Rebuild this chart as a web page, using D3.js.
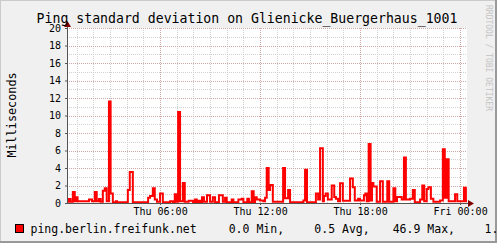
<!DOCTYPE html>
<html>
<head>
<meta charset="utf-8">
<script src="https://cdn.jsdelivr.net/npm/d3@7"></script>
<style>
  body { margin: 0; background: #f0f0f0; }
  text { font-family: "DejaVu Sans Mono", monospace; }
</style>
</head>
<body>
<div class="chart_wrapper"></div>
<script>
// step series: value holds from each time until the next one
const stepTimes = [
  "00:25","00:32","00:38","00:46","00:53","00:57","01:03","01:44","01:55","02:05",
  "02:12","02:20","02:26","02:34","02:41","02:48","02:56","03:02","03:10","03:21",
  "03:25","04:04","04:11","04:22","05:17","05:24","05:34","05:41","05:49","06:00",
  "06:10","06:36","06:46","06:53","07:00","07:05","07:12","07:22","07:29","07:43",
  "07:59","08:06","08:12","08:18","08:24","08:31","08:38","08:49","09:00","09:10",
  "09:18","09:32","09:46","09:54","10:00","10:18","10:24","10:42","10:54","11:00",
  "11:14","11:20","11:30","11:37","11:42","11:48","12:00","12:12","12:18","12:24",
  "12:31","12:36","12:46","13:23","13:30","13:41","13:48","14:36","14:42","14:49",
  "15:21","15:29","15:36","15:46","15:50","15:56","16:04","16:18","16:27","16:33",
  "16:41","16:48","16:58","17:24","17:34","17:41","17:53","18:00","18:14","18:19",
  "18:24","18:31","18:38","18:43","18:48","19:00","19:12","19:22","19:38","19:45",
  "20:00","20:07","20:13","20:30","20:38","20:45","21:00","21:10","21:17","21:36",
  "21:44","21:51","22:00","22:06","22:15","22:24","22:48","22:58","23:05","23:12",
  "23:19","23:42","23:50","24:14","24:21"
]
const stepValues = [
  0.15,0.45,0.15,1.25,0.2,0.65,0.2,0.4,0.2,1.25,
  0.2,0.45,0.15,1.4,1.7,0.2,11.6,1.1,0.1,0.2,
  0.1,1.5,3.55,0.1,0.6,0.8,1.7,0.4,0.15,1.1,
  0.1,0.2,0.1,1.0,0.15,10.4,0.2,2.3,0.15,0.25,
  0.1,0.4,0.1,0.25,0.1,0.65,0.15,0.9,0.15,0.65,
  0.1,0.9,0.15,0.6,0.1,0.4,0.1,0.4,0.5,0.1,
  0.5,0.1,1.35,0.1,0.65,0.4,0.3,0.2,0.6,4.0,
  1.5,2.05,0.15,4.0,0.55,1.5,0.1,0.3,3.8,0.1,
  1.1,0.4,6.25,0.2,0.8,1.1,0.4,2.0,0.7,0.5,
  0.2,2.25,0.25,2.8,1.8,0.3,0.5,0.3,0.9,1.1,
  0.2,6.75,0.3,2.3,1.9,0.15,2.5,0.15,2.5,0.15,
  1.7,0.2,0.7,0.4,5.2,0.4,0.5,1.5,0.1,0.4,
  2.0,0.2,1.6,1.8,0.5,0.15,0.3,6.15,0.6,5.0,
  0.2,1.0,0.2,1.75,0.2
]
const startTime = "00:25"
const endTime = "24:25"
const yTicks = [0, 2, 4, 6, 8, 10, 12, 14, 16, 18, 20]
const titleText = "Ping standard deviation on Glienicke_Buergerhaus_1001"
const yLabel = "Milliseconds"
const seriesName = "ping.berlin.freifunk.net"
const legendStats = ["0.0 Min,", "0.5 Avg,", "46.9 Max,", "1."]
const watermark = "RRDTOOL / TOBI OETIKER"

// Thursday 2015-01-01 as the base day; "24:xx" rolls into Friday
const toDate = (s) => {
    const [h, m] = s.split(':').map(Number)
    return new Date(2015, 0, 1, h, m)
}

const width = 497
const height = 243
const plotL = 67, plotR = 467, plotT = 28, plotB = 203

const svg = d3.select('.chart_wrapper')
    .append('svg')
    .attr('width', width)
    .attr('height', height)

// background + 3d frame
svg.append('rect').attr('width', width).attr('height', height).attr('fill', '#f0f0f0')
svg.append('path').attr('d', `M0,${height} V0 H${width}`).attr('stroke', '#cbcbcb').attr('stroke-width', 2).attr('fill', 'none')
svg.append('path').attr('d', `M0,${height - 1} H${width - 1} V0`).attr('stroke', '#999').attr('stroke-width', 2).attr('fill', 'none')

const x = d3.scaleTime()
    .domain([toDate(startTime), toDate(endTime)])
    .range([plotL, plotR])
const y = d3.scaleLinear()
    .domain([0, 20])
    .range([plotB, plotT])

svg.append('rect')
    .attr('x', plotL).attr('y', plotT)
    .attr('width', plotR - plotL).attr('height', plotB - plotT)
    .attr('fill', '#fff')

// grid
const grid = svg.append('g').attr('stroke-dasharray', '1,1').attr('shape-rendering', 'crispEdges')
const hours = d3.timeHour.every(1).range(toDate(startTime), toDate(endTime))
grid.selectAll('line.vx')
    .data(hours)
    .join('line')
    .attr('x1', d => Math.round(x(d)) + 0.5).attr('x2', d => Math.round(x(d)) + 0.5)
    .attr('y1', plotT).attr('y2', plotB)
    .attr('stroke', d => d.getHours() % 6 === 0 ? '#cea7a7' : '#d2d2d2')
grid.selectAll('line.hy')
    .data(d3.range(1, 21))
    .join('line')
    .attr('x1', plotL).attr('x2', plotR)
    .attr('y1', d => Math.round(y(d)) + 0.5).attr('y2', d => Math.round(y(d)) + 0.5)
    .attr('stroke', d => d % 2 === 0 ? '#cea7a7' : '#d2d2d2')

// the series
const points = stepTimes.map((t, i) => ({ t: toDate(t), v: stepValues[i] }))
points.push({ t: toDate(endTime), v: stepValues[stepValues.length - 1] })
const line = d3.line()
    .x(d => x(d.t))
    .y(d => y(d.v))
    .curve(d3.curveStepAfter)
svg.append('path')
    .datum(points)
    .attr('d', line)
    .attr('fill', 'none')
    .attr('stroke', '#ff0000')
    .attr('stroke-width', 2)

// axes
const xAxis = svg.append('g')
    .attr('transform', `translate(0,${plotB})`)
    .call(d3.axisBottom(x)
        .tickValues(d3.timeHour.every(6).range(toDate("01:00"), toDate(endTime)))
        .tickFormat(d3.timeFormat('%a %H:%M'))
        .tickSize(2)
        .tickPadding(3))
xAxis.select('.domain').remove()
xAxis.selectAll('text').attr('font-size', 10).attr('fill', '#000').attr('font-family', 'DejaVu Sans Mono')

const yAxis = svg.append('g')
    .attr('transform', `translate(${plotL},0)`)
    .call(d3.axisLeft(y).tickValues(yTicks).tickSize(2).tickPadding(4))
yAxis.select('.domain').remove()
yAxis.selectAll('text').attr('font-size', 10).attr('fill', '#000').attr('font-family', 'DejaVu Sans Mono')
svg.selectAll('.tick line').attr('stroke', '#555')

svg.append('line').attr('x1', plotL).attr('x2', plotR + 2).attr('y1', plotB + 0.5).attr('y2', plotB + 0.5).attr('stroke', '#555')
svg.append('line').attr('x1', plotL + 0.5).attr('x2', plotL + 0.5).attr('y1', plotB).attr('y2', plotT - 2).attr('stroke', '#555')
svg.append('path').attr('d', `M${plotL - 3},${plotT - 1} L${plotL + 0.5},${plotT - 7} L${plotL + 4},${plotT - 1} Z`).attr('fill', '#800000')
svg.append('path').attr('d', `M${plotR + 1},${plotB - 3} L${plotR + 7},${plotB + 0.5} L${plotR + 1},${plotB + 4} Z`).attr('fill', '#800000')

// texts
svg.append('text')
    .attr('x', 247).attr('y', 23)
    .attr('text-anchor', 'middle')
    .attr('font-size', 13.2)
    .text(titleText)

svg.append('text')
    .attr('transform', 'translate(15.5,115) rotate(-90)')
    .attr('text-anchor', 'middle')
    .attr('font-size', 11.8)
    .text(yLabel)

svg.append('text')
    .attr('transform', 'translate(486,5) rotate(90)')
    .attr('font-size', 8)
    .attr('fill', '#c4c4c4')
    .text(watermark)

// legend
svg.append('rect')
    .attr('x', 15.5).attr('y', 224.5)
    .attr('width', 8).attr('height', 8)
    .attr('fill', '#ff0000').attr('stroke', '#000')
svg.append('text')
    .attr('x', 30.5).attr('y', 233)
    .attr('font-size', 11.5)
    .text(seriesName)
const statX = [228.7, 314.3, 392.7, 484.5]
svg.selectAll('text.stat')
    .data(legendStats)
    .join('text')
    .attr('class', 'stat')
    .attr('x', (d, i) => statX[i]).attr('y', 233)
    .attr('font-size', 11.5)
    .text(d => d)
</script>
</body>
</html>
